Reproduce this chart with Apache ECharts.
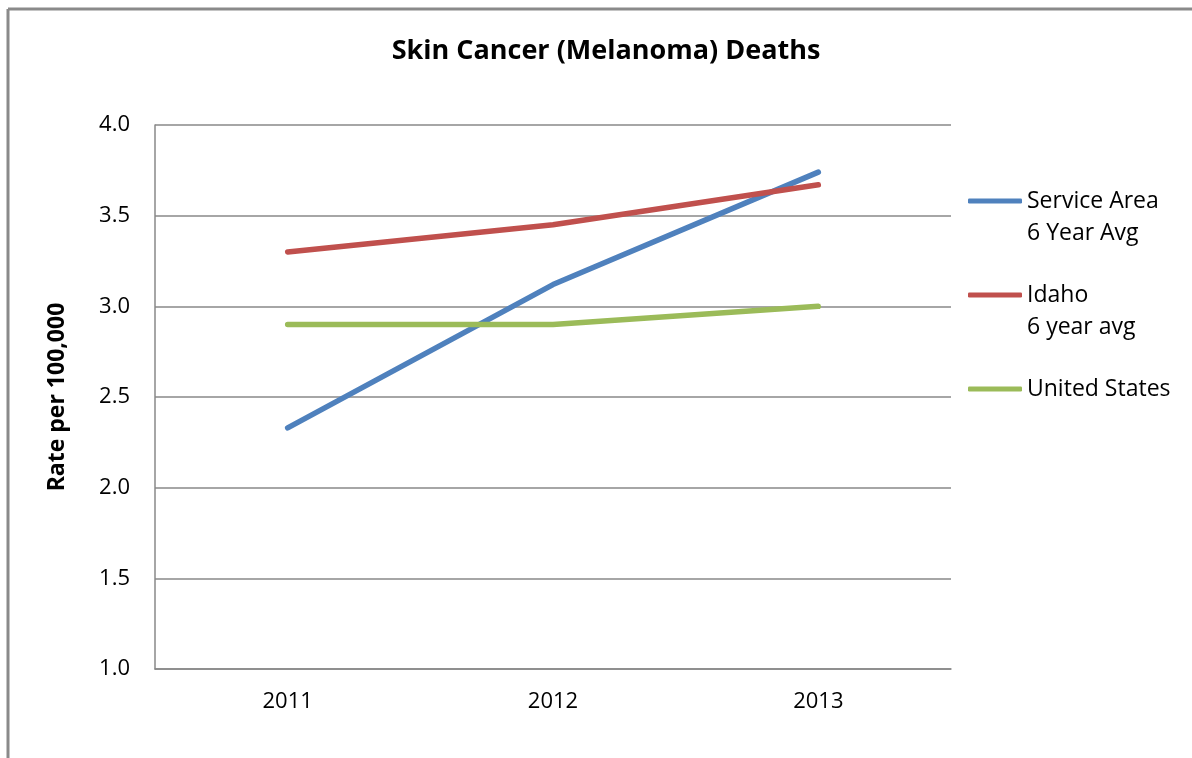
<!DOCTYPE html>
<html><head><meta charset="utf-8">
<script src="https://cdn.jsdelivr.net/npm/echarts@6/dist/echarts.min.js"></script>
<style>html,body{margin:0;padding:0;background:#fff}#c{width:1192px;height:758px}</style>
</head><body><div id="c"></div>
<script>
const categories = ['2011', '2012', '2013'];
const serviceArea = [2.33, 3.12, 3.74];
const idaho = [3.30, 3.45, 3.67];
const unitedStates = [2.90, 2.90, 3.00];
const seriesNames = ['Service Area\n6 Year Avg', 'Idaho\n6 year avg', 'United States'];
const yTicks = {min: 1.0, max: 4.0, interval: 0.5};

const FONT = '"Open Sans", "Liberation Sans", sans-serif';
const colors = ['#4F81BD', '#C0504D', '#9BBB59'];
const chart = echarts.init(document.getElementById('c'));
const mk = (name, data, color) => ({
  name, type: 'line', data, symbol: 'none', smooth: false,
  lineStyle: {color, width: 5.5, cap: 'round'}, itemStyle: {color}
});
chart.setOption({
  animation: false,
  title: {text: 'Skin Cancer (Melanoma) Deaths', left: 601, top: 33, textAlign: 'center',
    textStyle: {fontFamily: FONT, fontSize: 27, fontWeight: 'bold', color: '#000'}},
  grid: {left: 155, top: 125, right: 241, bottom: 89},
  legend: {orient: 'vertical', left: 968, top: 189, itemGap: 70, itemWidth: 54, itemHeight: 5, padding: 0,
    icon: 'roundRect', data: seriesNames,
    formatter: n => n.split('\n')[0],
    textStyle: {fontFamily: FONT, fontSize: 23, lineHeight: 24, color: '#000'}},
  graphic: [
    {type: 'line', shape: {x1: 8, y1: 9, x2: 8, y2: 758}, style: {stroke: '#8a8a8a', lineWidth: 3}},
    {type: 'line', shape: {x1: 8, y1: 9, x2: 1192, y2: 9}, style: {stroke: '#8a8a8a', lineWidth: 3}},
    {type: 'text', x: 1027, y: 233, style: {text: seriesNames[0].split('\n')[1], font: '23px ' + FONT, fill: '#000', verticalAlign: 'middle'}},
    {type: 'text', x: 1027, y: 327, style: {text: seriesNames[1].split('\n')[1], font: '23px ' + FONT, fill: '#000', verticalAlign: 'middle'}}
  ],
  xAxis: {type: 'category', data: categories, boundaryGap: true,
    axisLine: {lineStyle: {color: '#888', width: 1.5}}, axisTick: {show: false},
    axisLabel: {fontFamily: FONT, fontSize: 22, color: '#000', margin: 22}},
  yAxis: {type: 'value', min: yTicks.min, max: yTicks.max, interval: yTicks.interval,
    name: 'Rate per 100,000', nameLocation: 'middle', nameGap: 86, nameRotate: 90,
    nameTextStyle: {fontFamily: FONT, fontSize: 23, fontWeight: 'bold', color: '#000'},
    axisLine: {show: true, lineStyle: {color: '#888', width: 1.5}}, axisTick: {show: false},
    splitLine: {lineStyle: {color: '#888', width: 1.5}},
    axisLabel: {fontFamily: FONT, fontSize: 22, color: '#000', margin: 25, formatter: v => v.toFixed(1)}},
  series: [mk(seriesNames[0], serviceArea, colors[0]), mk(seriesNames[1], idaho, colors[1]), mk(seriesNames[2], unitedStates, colors[2])]
});
</script></body></html>
